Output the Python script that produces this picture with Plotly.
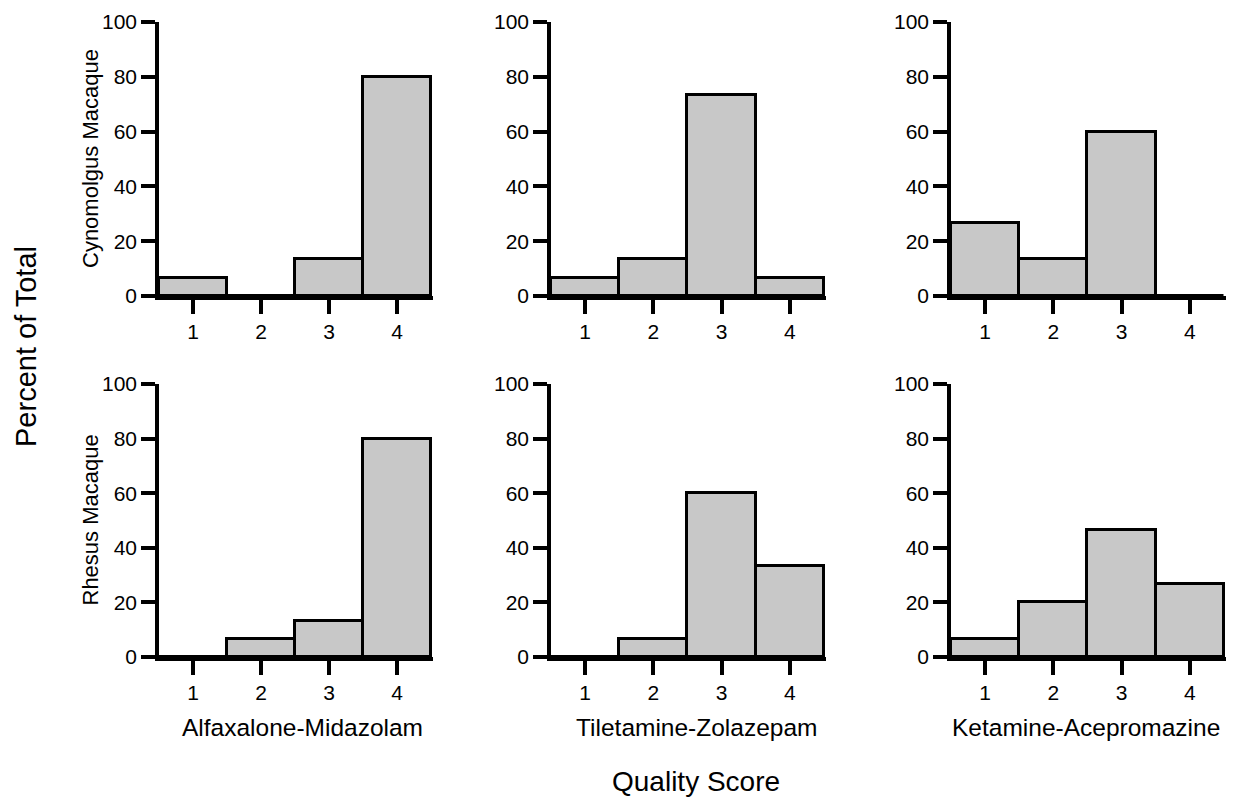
import plotly.graph_objects as go

W, H = 1234, 799          # browser viewport
OFF = 8                   # default page body margin
FW, FH = W - OFF, H - OFF # figure size that fills the viewport

scores = [1, 2, 3, 4]
drugs = ["Alfaxalone-Midazolam", "Tiletamine-Zolazepam", "Ketamine-Acepromazine"]
species = ["Cynomolgus Macaque", "Rhesus Macaque"]

cyno_alfaxalone = [6.67, 0, 13.33, 80]
cyno_tiletamine = [6.67, 13.33, 73.33, 6.67]
cyno_ketamine = [26.67, 13.33, 60, 0]
rhesus_alfaxalone = [0, 6.67, 13.33, 80]
rhesus_tiletamine = [0, 6.67, 60, 33.33]
rhesus_ketamine = [6.67, 20, 46.67, 26.67]

y_ticks = [0, 20, 40, 60, 80, 100]

panels = [
    [cyno_alfaxalone, cyno_tiletamine, cyno_ketamine],
    [rhesus_alfaxalone, rhesus_tiletamine, rhesus_ketamine],
]

FONT = "Arial, Liberation Sans, Helvetica, sans-serif"


def px_x(x):
    return (x - OFF) / FW


def px_y(y):
    return 1 - (y - OFF) / FH


col_px = [(159, 433), (551, 826), (951, 1226)]
row_px = [(22, 296), (384, 657)]

fig = go.Figure()

for r in range(2):
    for c in range(3):
        idx = r * 3 + c + 1
        xa = "x" if idx == 1 else f"x{idx}"
        ya = "y" if idx == 1 else f"y{idx}"
        fig.add_trace(go.Bar(
            x=scores, y=panels[r][c], width=1,
            marker=dict(color="#c8c8c8", line=dict(color="black", width=3)),
            xaxis=xa, yaxis=ya, showlegend=False, hoverinfo="skip",
        ))
        x0, x1 = col_px[c]
        yt, yb = row_px[r]
        xkey = "xaxis" if idx == 1 else f"xaxis{idx}"
        ykey = "yaxis" if idx == 1 else f"yaxis{idx}"
        fig.layout[xkey] = dict(
            domain=[px_x(x0), px_x(x1)], anchor=ya, range=[0.5, 4.53],
            tickmode="array", tickvals=scores, ticktext=[str(s) for s in scores],
            showline=True, linecolor="black", linewidth=3.5,
            ticks="outside", ticklen=14, tickwidth=3.5, tickcolor="black",
            showgrid=False, zeroline=False, fixedrange=True, automargin=False,
            tickfont=dict(family=FONT, size=21, color="black"),
        )
        fig.layout[ykey] = dict(
            domain=[px_y(yb), px_y(yt)], anchor=xa, range=[0, 100],
            tickmode="array", tickvals=y_ticks,
            showline=True, linecolor="black", linewidth=3.5,
            ticks="outside", ticklen=14, tickwidth=3.5, tickcolor="black",
            showgrid=False, zeroline=False, fixedrange=True, automargin=False,
            tickfont=dict(family=FONT, size=21, color="black"),
        )

annotations = []
# species row labels
for r, name in enumerate(species):
    yt, yb = row_px[r]
    annotations.append(dict(
        text=name, x=px_x(90), y=px_y((yt + yb) / 2), xref="paper", yref="paper",
        textangle=-90, showarrow=False, xanchor="center", yanchor="middle",
        font=dict(family=FONT, size=22, color="black"),
    ))
# drug column labels
col_centers = [302, 696, 1086]
for c, name in enumerate(drugs):
    annotations.append(dict(
        text=name, x=px_x(col_centers[c]), y=px_y(727), xref="paper", yref="paper",
        showarrow=False, xanchor="center", yanchor="middle",
        font=dict(family=FONT, size=24.5, color="black"),
    ))
annotations.append(dict(
    text="Percent of Total", x=px_x(26), y=px_y(347), xref="paper", yref="paper",
    textangle=-90, showarrow=False, xanchor="center", yanchor="middle",
    font=dict(family=FONT, size=29, color="black"),
))
annotations.append(dict(
    text="Quality Score", x=px_x(696), y=0, xref="paper", yref="paper",
    showarrow=False, xanchor="center", yanchor="bottom",
    font=dict(family=FONT, size=28, color="black"),
))

fig.update_layout(
    width=FW, height=FH, margin=dict(l=0, r=0, t=0, b=0, autoexpand=False),
    paper_bgcolor="white", plot_bgcolor="white",
    barmode="overlay", bargap=0,
    annotations=annotations,
    font=dict(family=FONT, color="black"),
)

fig.write_html("out.html")
